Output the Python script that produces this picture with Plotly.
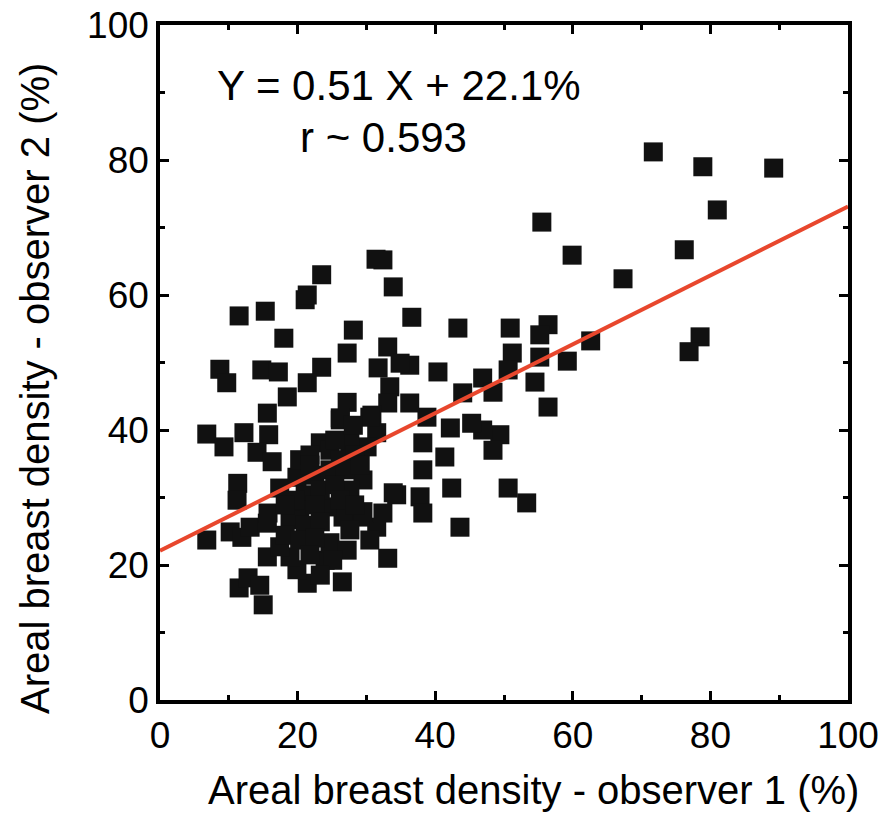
import plotly.graph_objects as go

# Observer 1 (x) and observer 2 (y) areal breast density, %
obs1 = [71.7, 78.9, 89.2, 81.0, 76.2, 55.5, 59.9, 67.3, 78.5, 76.9, 62.6, 59.2,
        50.9, 56.4, 55.2, 51.2, 55.2, 50.6, 54.5, 56.4, 46.9, 48.4, 49.4, 48.4,
        46.9, 45.3, 44.0, 42.2, 50.6, 53.3, 43.3, 43.6, 42.4, 41.4, 40.4, 38.2,
        38.2, 37.8, 38.2, 38.8, 36.3, 36.3, 36.6, 33.9, 32.4, 31.4, 33.1, 31.7,
        34.9, 33.4, 33.1, 31.5, 30.8, 27.2, 26.2, 28.1, 27.2, 23.5, 23.5, 21.1,
        21.4, 18.0, 15.3, 11.5, 8.7, 9.7, 14.8, 17.2, 18.5, 21.4, 15.6, 6.8,
        9.3, 12.2, 15.8, 14.1, 16.3, 11.3, 11.2, 6.8, 10.2, 11.9, 13.1, 15.6,
        15.7, 15.6, 11.5, 12.8, 14.5, 15.0, 17.4, 21.4, 19.9, 18.9, 17.4, 24.0,
        26.5, 33.1, 34.4, 31.5, 29.1, 32.4, 29.5, 27.6, 24.7, 27.2, 25.1, 33.9,
        29.5, 26.6, 24.3, 30.1, 23.3, 27.6, 26.2, 30.5, 19.9, 20.3, 21.8, 24.7,
        26.2, 28.3, 22.5, 24.7, 26.9, 29.1, 21.1, 23.3, 25.4, 20.3, 22.5, 18.9,
        21.1, 23.3, 18.2, 20.3, 22.5, 21.8, 19.6, 21.8, 18.2, 26.2, 28.3, 27.6,
        30.5, 23.3, 25.4, 28.1]
obs2 = [81.2, 79.0, 78.8, 72.6, 66.7, 70.8, 65.9, 62.4, 53.8, 51.6, 53.2, 50.2,
        55.1, 55.6, 54.1, 51.4, 50.8, 48.9, 47.1, 43.4, 47.7, 45.6, 39.3, 37.0,
        40.0, 41.0, 45.5, 40.3, 31.4, 29.2, 55.1, 25.6, 31.4, 36.0, 48.6, 38.1,
        34.1, 30.1, 27.7, 41.9, 44.0, 49.6, 56.7, 61.2, 65.2, 65.3, 52.3, 49.2,
        49.9, 46.4, 44.0, 39.6, 42.2, 44.1, 41.5, 54.8, 51.4, 49.3, 63.0, 59.3,
        60.0, 53.6, 57.6, 56.9, 49.0, 47.0, 48.9, 48.6, 44.9, 47.0, 42.5, 39.4,
        37.5, 39.6, 39.3, 36.7, 35.3, 32.1, 29.6, 23.7, 24.9, 24.1, 25.6, 26.2,
        27.7, 21.2, 16.6, 18.1, 17.0, 14.1, 31.4, 17.3, 19.3, 21.2, 22.7, 20.7,
        17.5, 21.0, 30.4, 25.6, 27.1, 27.7, 32.6, 31.1, 23.3, 22.2, 20.7, 30.7,
        27.9, 27.1, 28.6, 37.5, 38.1, 38.1, 41.8, 41.9, 33.0, 35.6, 36.3, 37.0,
        35.6, 36.3, 33.3, 34.1, 34.1, 34.8, 30.4, 31.1, 31.9, 28.1, 28.9, 26.7,
        25.9, 26.4, 24.4, 23.7, 24.0, 21.5, 29.6, 34.8, 28.9, 29.6, 28.9, 25.2,
        23.7, 18.5, 38.5, 40.7]

slope = 0.51
intercept = 22.1
fit_x = [0, 100]
fit_y = [intercept + slope * v for v in fit_x]

x_ticks = [0, 20, 40, 60, 80, 100]
y_ticks = [0, 20, 40, 60, 80, 100]

FONT = "Liberation Sans, Arial, sans-serif"

fig = go.Figure()
fig.add_trace(go.Scatter(
    x=obs1, y=obs2, mode="markers",
    marker=dict(symbol="square", size=19, color="#111111", line=dict(width=0)),
    showlegend=False, hoverinfo="x+y"))
fig.add_trace(go.Scatter(
    x=fit_x, y=fit_y, mode="lines",
    line=dict(color="#E8472D", width=4), showlegend=False))

axis_common = dict(
    showgrid=False, zeroline=False, showline=True, linecolor="black", linewidth=3.5,
    mirror="ticks", ticks="inside", ticklen=9, tickwidth=3, tickcolor="black",
    tickfont=dict(family=FONT, size=37, color="black"), automargin=False,
    minor=dict(ticks="inside", ticklen=5, tickwidth=3, tickcolor="black", dtick=10),
)

fig.update_layout(
    width=886, height=814,
    margin=dict(l=160, r=38, t=25, b=114, autoexpand=False),
    paper_bgcolor="white", plot_bgcolor="white",
    font=dict(family=FONT, color="black"),
    xaxis=dict(range=[0, 100], tickvals=x_ticks, ticktext=[str(v) for v in x_ticks],
               **axis_common),
    yaxis=dict(range=[0, 100], tickvals=y_ticks, ticktext=[str(v) for v in y_ticks],
               **axis_common),
)

fig.add_annotation(x=8.0, y=91.1, xref="x", yref="y", xanchor="left", yanchor="middle",
                   text="Y = 0.51 X + 22.1%", showarrow=False,
                   font=dict(family=FONT, size=42, color="black"))
fig.add_annotation(x=20.1, y=83.3, xref="x", yref="y", xanchor="left", yanchor="middle",
                   text="r ~ 0.593", showarrow=False,
                   font=dict(family=FONT, size=42, color="black"))

# axis titles, positioned relative to the plot area (paper = plot domain)
fig.add_annotation(x=0.5436, y=-0.1333, xref="paper", yref="paper",
                   xanchor="center", yanchor="middle",
                   text="Areal breast density - observer 1 (%)", showarrow=False,
                   font=dict(family=FONT, size=40, color="black"))
fig.add_annotation(x=-0.1817, y=0.4622, xref="paper", yref="paper",
                   xanchor="center", yanchor="middle", textangle=-90,
                   text="Areal breast density - observer 2 (%)", showarrow=False,
                   font=dict(family=FONT, size=40, color="black"))

fig.write_html("out.html")
